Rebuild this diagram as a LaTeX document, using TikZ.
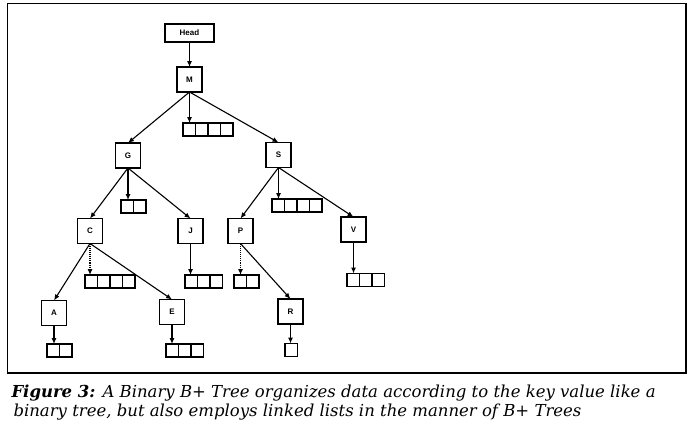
\documentclass[tikz,border=0pt]{standalone}
\usepackage{fontspec}
\setmainfont{DejaVu Serif}
\setsansfont{Liberation Sans}
\usetikzlibrary{arrows.meta}

\tikzset{
  key/.style={draw=black, line width=1.2pt, minimum size=25pt, inner sep=0pt, outer sep=0pt,
    font=\sffamily\bfseries\fontsize{8}{9}\selectfont},
  listbox/.style={draw=black, line width=1.2pt, minimum height=13pt, inner sep=0pt, outer sep=0pt,
    anchor=north west},
  link/.style={line width=1.1pt, -{Latex[length=6pt,width=5pt]}},
  captext/.style={anchor=base west, font=\itshape\fontsize{16.5}{19}\selectfont},
}

\begin{document}
\begin{tikzpicture}[x=1pt, y=-1pt]
  \useasboundingbox (0,0) rectangle (693,431);
  \draw[line width=1.5pt] (7.5,3.5) rectangle (686,373);

  \node[key, minimum width=49pt, minimum height=18pt](Head) at (189.5,33){Head};
  \node[key](M) at (189.5,79.5){M};
  \node[key](G) at (128.0,155.5){G};
  \node[key](S) at (278.5,155.0){S};
  \node[key](C) at ( 90.0,231.0){C};
  \node[key](J) at (190.5,231.0){J};
  \node[key](P) at (240.5,231.0){P};
  \node[key](V) at (353.5,229.5){V};
  \node[key](A) at ( 54.0,313.0){A};
  \node[key](E) at (172.0,312.0){E};
  \node[key](R) at (290.5,311.5){R};

  % linked lists
  \foreach \k/\x/\y/\n in {M/183/123/4, G/121/200/2, S/272/199/4, C/85/275/4, J/185/275/3,
      P/234/275/2, V/347/273.5/3, A/47/344/2, E/166/344/3, R/285/343.5/1}{
    \node[listbox, minimum width={12.5pt*\n}](list\k) at (\x,\y){};
    \foreach \i in {1,...,\n}{
      \ifnum\i<\n
        \draw[line width=1.2pt] (list\k.north west) ++(12.5*\i,0) -- ++(0,13);
      \fi
    }
  }

  \draw[link] (Head.south) -- (M.north);
  \draw[link] (M.south) -- (G.north);
  \draw[link] (M.south) -- (S.north);
  \draw[link] (G.south) -- (C.north);
  \draw[link] (G.south) -- (J.north);
  \draw[link] (S.south) -- (P.north);
  \draw[link] (S.south) -- (V.north);
  \draw[link] (C.south) -- (A.north);
  \draw[link] (C.south) -- (E.north);
  \draw[link] (P.south) -- (R.north);

  \foreach \k in {M,G,S,J,V,A,E,R}
    \draw[link] (\k.south) -- (\k.south |- list\k.north);
  \foreach \k in {C,P}
    \draw[link, densely dotted] (\k.south) -- (\k.south |- list\k.north);

  \node[captext](cap1) at (8,397){\textbf{Figure 3:} A Binary B+ Tree organizes data according to the key value like a};
  \node[captext](cap2) at (10,416){binary tree, but also employs linked lists in the manner of B+ Trees};
\end{tikzpicture}
\end{document}
